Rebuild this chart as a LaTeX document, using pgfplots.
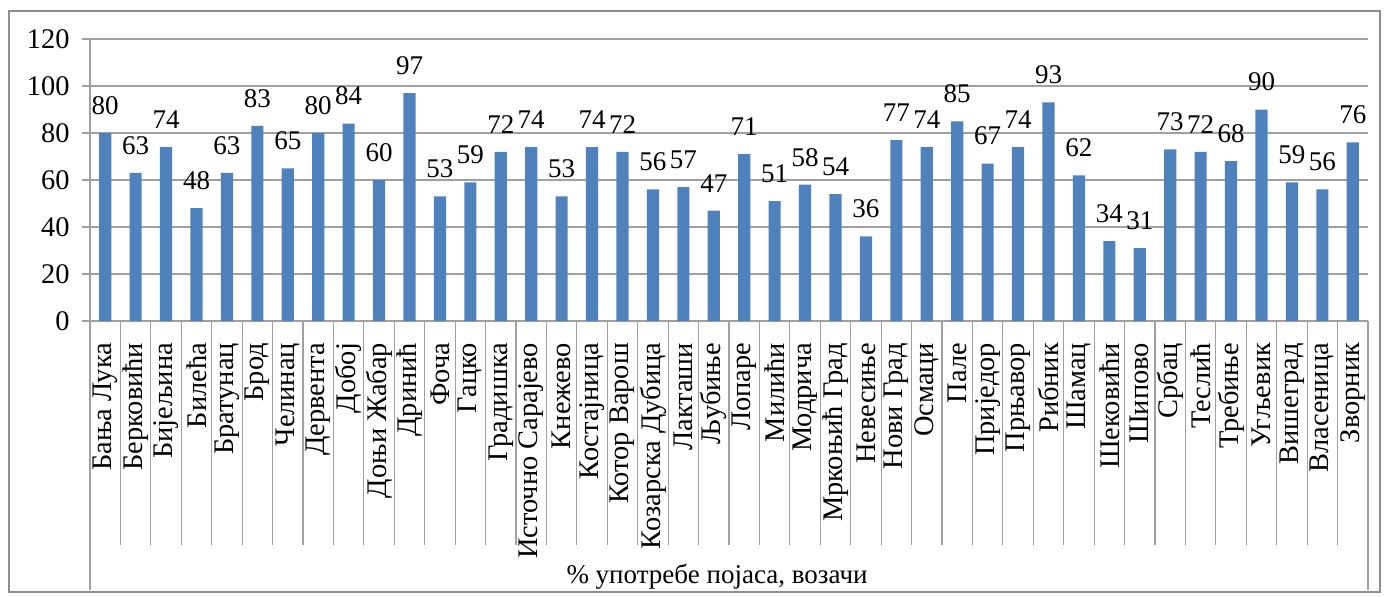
\documentclass[border=0pt]{standalone}
\usepackage{pgfplots}
\pgfplotsset{compat=1.18}
\usepackage{pgfplotstable}
\usepackage{fontspec}
\setmainfont{Liberation Serif}
\definecolor{barblue}{HTML}{4F81BD}
\definecolor{gridgray}{HTML}{A0A0A0}
\definecolor{framegray}{HTML}{8E8E8E}

\pgfplotstableread{
x y
1 80
2 63
3 74
4 48
5 63
6 83
7 65
8 80
9 84
10 60
11 97
12 53
13 59
14 72
15 74
16 53
17 74
18 72
19 56
20 57
21 47
22 71
23 51
24 58
25 54
26 36
27 77
28 74
29 85
30 67
31 74
32 93
33 62
34 34
35 31
36 73
37 72
38 68
39 90
40 59
41 56
42 76
}\datatable

\newcommand{\lblfont}{\fontsize{13.5}{14}\selectfont}
\newcommand{\tickfont}{\fontsize{14.2}{15}\selectfont}

\begin{document}
\begin{tikzpicture}
\useasboundingbox (-45pt,-137.5pt) rectangle (648pt,160.5pt);
\draw[framegray, line width=0.8pt] (-40.5pt,-135.5pt) rectangle (645pt,155pt);
\begin{axis}[
  at={(0,0)}, anchor=south west,
  scale only axis, width=639pt, height=141pt,
  xmin=0.5, xmax=42.5, ymin=0, ymax=120,
  clip=false,
  ybar, bar width=0.4,
  ytick={0,20,...,120},
  xtick={1,...,42},
  xticklabels={Бања Лука,Берковићи,Бијељина,Билећа,Братунац,Брод,Челинац,Дервента,Добој,Доњи Жабар,Дринић,Фоча,Гацко,Градишка,Источно Сарајево,Кнежево,Костајница,Котор Варош,Козарска Дубица,Лакташи,Љубиње,Лопаре,Милићи,Модрича,Мркоњић Град,Невесиње,Нови Град,Осмаци,Пале,Приједор,Прњавор,Рибник,Шамац,Шековићи,Шипово,Србац,Теслић,Требиње,Угљевик,Вишеград,Власеница,Зворник},
  axis x line*=bottom, axis y line*=left,
  axis line style={gridgray, line width=0.6pt},
  ymajorgrids, grid style={gridgray, line width=0.6pt},
  tick align=outside, major tick length=4pt,
  xtick style={draw=none},
  ytick style={gridgray, line width=0.6pt},
  tick label style={font=\tickfont},
  /pgf/number format/assume math mode=true,
  yticklabel style={inner sep=0pt, xshift=-6pt},
  xticklabel style={rotate=90, anchor=east, inner ysep=0pt, inner xsep=0pt, outer xsep=7pt},
]
\addplot[fill=barblue, draw=none,
  nodes near coords,
  nodes near coords style={font=\lblfont, anchor=south, inner sep=0pt, yshift=9pt, text=black}]
  table[x=x,y=y] {\datatable};
\pgfplotsinvokeforeach{1.5,2.5,...,41.5}{
  \draw[gridgray, line width=0.6pt] (axis cs:#1,0) -- ++(0pt,-112pt);
}
\draw[gridgray, line width=0.6pt] (axis cs:0.5,0) -- ++(0pt,-134.5pt);
\draw[gridgray, line width=0.6pt] (axis cs:42.5,0) -- ++(0pt,-134.5pt);
\end{axis}
\node[inner sep=0pt] at (313.5pt,-128pt) {\lblfont \% употребе појаса, возачи};
\end{tikzpicture}
\end{document}
